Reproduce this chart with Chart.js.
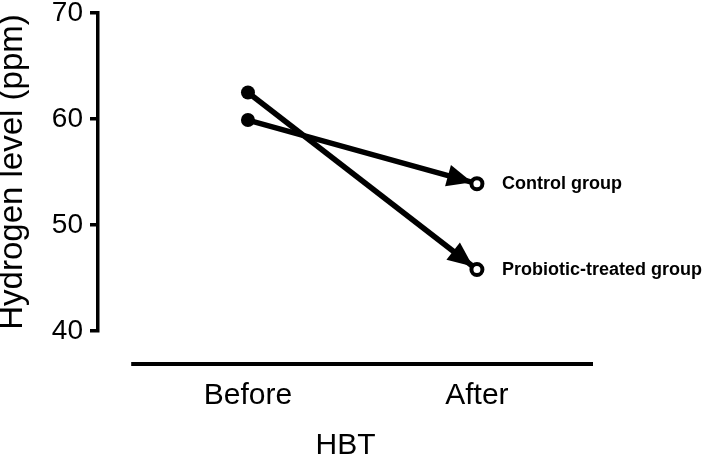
<!DOCTYPE html>
<html>
<head>
<meta charset="utf-8">
<script src="https://cdn.jsdelivr.net/npm/chart.js@4.4.1/dist/chart.umd.min.js"></script>
<style>
  html, body { margin: 0; padding: 0; background: #fff; }
  #wrap { width: 709px; height: 459px; }
</style>
</head>
<body>
<div id="wrap"><canvas id="hbtChart" width="709" height="459"></canvas></div>
<script>
  // HBT hydrogen levels, before vs after
  const categories = ['Before', 'After'];
  const controlGroup = [59.9, 53.9];
  const probioticGroup = [62.5, 45.8];
  const seriesNames = ['Control group', 'Probiotic-treated group'];
  const yTicks = [40, 50, 60, 70];

  const toPoints = (vals) => vals.map((v, i) => ({ x: i, y: v }));

  // arrow heads, the x axis line and the group labels
  const decorations = {
      id: 'decorations',
      afterDatasetsDraw(chart) {
          const ctx = chart.ctx;
          const xs = chart.scales.x;
          const area = chart.chartArea;

          // detached x axis line
          ctx.save();
          ctx.strokeStyle = '#000';
          ctx.lineWidth = 4;
          ctx.beginPath();
          ctx.moveTo(xs.getPixelForValue(-0.51), area.bottom + 33);
          ctx.lineTo(area.right, area.bottom + 33);
          ctx.stroke();
          ctx.restore();

          chart.data.datasets.forEach((ds, i) => {
              const pts = chart.getDatasetMeta(i).data;
              const p0 = pts[0], p1 = pts[1];
              const dx = p1.x - p0.x, dy = p1.y - p0.y;
              const len = Math.sqrt(dx * dx + dy * dy);
              const ux = dx / len, uy = dy / len;
              const tipX = p1.x - ux * 5, tipY = p1.y - uy * 5;
              const headLen = 25, halfW = 11;
              const bx = tipX - ux * headLen, by = tipY - uy * headLen;
              ctx.save();
              ctx.fillStyle = '#000';
              ctx.beginPath();
              ctx.moveTo(tipX, tipY);
              ctx.lineTo(bx - uy * halfW, by + ux * halfW);
              ctx.lineTo(bx + uy * halfW, by - ux * halfW);
              ctx.closePath();
              ctx.fill();

              ctx.font = 'bold 18px "Liberation Sans", Arial, sans-serif';
              ctx.textAlign = 'left';
              ctx.textBaseline = 'alphabetic';
              ctx.fillText(ds.label, p1.x + 25, p1.y + 5);
              ctx.restore();
          });
      }
  };

  const ctx = document.getElementById('hbtChart').getContext('2d');
  const hbtChart = new Chart(ctx, {
      type: 'line',
      data: {
          datasets: [
              {
                  label: seriesNames[0],
                  data: toPoints(controlGroup),
                  borderColor: '#000',
                  borderWidth: 5.5,
                  pointRadius: [7, 5.5],
                  pointBorderWidth: [0, 4],
                  pointBackgroundColor: ['#000', '#fff'],
                  pointBorderColor: '#000',
                  clip: false
              },
              {
                  label: seriesNames[1],
                  data: toPoints(probioticGroup),
                  borderColor: '#000',
                  borderWidth: 5.5,
                  pointRadius: [7, 5.5],
                  pointBorderWidth: [0, 4],
                  pointBackgroundColor: ['#000', '#fff'],
                  pointBorderColor: '#000',
                  clip: false
              }
          ]
      },
      options: {
          responsive: false,
          animation: false,
          layout: { padding: { top: 13, right: 116, bottom: 0, left: 0 } },
          plugins: {
              legend: { display: false },
              tooltip: { enabled: false }
          },
          scales: {
              x: {
                  type: 'linear',
                  min: -0.655,
                  max: 1.507,
                  afterBuildTicks: (s) => { s.ticks = categories.map((c, i) => ({ value: i })); },
                  afterFit: (s) => { s.height = 128; s.paddingLeft = 0; s.paddingRight = 0; },
                  grid: { display: false, drawTicks: false },
                  border: { display: false },
                  ticks: {
                      color: '#000',
                      padding: 47,
                      maxRotation: 0,
                      font: { family: '"Liberation Sans", Arial, sans-serif', size: 30 },
                      callback: (v) => categories[v]
                  },
                  title: {
                      display: true,
                      text: 'HBT',
                      color: '#000',
                      padding: 0,
                      font: { family: '"Liberation Sans", Arial, sans-serif', size: 30, lineHeight: 0.87 }
                  }
              },
              y: {
                  min: 40,
                  max: 70,
                  afterBuildTicks: (s) => { s.ticks = yTicks.map((v) => ({ value: v })); },
                  afterFit: (s) => { s.width = 98; s.paddingTop = 0; s.paddingBottom = 0; },
                  grid: {
                      drawOnChartArea: false,
                      drawTicks: true,
                      tickLength: 8,
                      color: '#000',
                      lineWidth: 3.5
                  },
                  border: { display: true, color: '#000', width: 3.5 },
                  ticks: {
                      color: '#000',
                      padding: 7,
                      font: { family: '"Liberation Sans", Arial, sans-serif', size: 28 }
                  },
                  title: {
                      display: true,
                      text: 'Hydrogen level (ppm)',
                      color: '#000',
                      padding: 0,
                      font: { family: '"Liberation Sans", Arial, sans-serif', size: 33, lineHeight: 0.78 }
                  }
              }
          }
      },
      plugins: [decorations]
  });
</script>
</body>
</html>
